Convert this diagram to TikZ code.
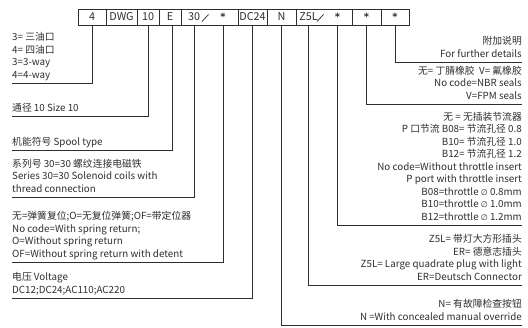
\documentclass[tikz,border=0pt]{standalone}
\usepackage{fontspec}
\setmainfont{Noto Sans CJK SC}
\newfontfamily\symfont{DejaVu Sans}
\usetikzlibrary{positioning}
\definecolor{ink}{HTML}{2E2E2E}
\tikzstyle{cell}=[draw=ink, line width=0.75pt, minimum height=16pt, inner sep=0pt, text=ink, font=\fontsize{10.8}{12}\selectfont]
\tikzstyle{lead}=[draw=ink, line width=0.75pt]
\tikzstyle{note}=[inner sep=0pt, text=ink, font=\fontsize{9.8}{12.5}\selectfont, execute at end node={\strut}]
\newcommand{\dia}{{\symfont\fontsize{8}{10}\selectfont ∅}}
\newcommand{\starmark}{\raisebox{-3.2pt}{\symfont\bfseries\fontsize{10}{10}\selectfont *}}

\begin{document}
\begin{tikzpicture}[x=1pt, y=-1pt]
    \useasboundingbox (0, 0) rectangle (528, 327);
% Code boxes
    \node[cell, minimum width=28pt] (c4) at (92, 17) {4};
    \node[cell, minimum width=31pt] (cDWG) at (121.5, 17) {DWG};
    \node[cell, minimum width=22pt] (c10) at (148, 17) {10};
    \node[cell, minimum width=22pt] (cE) at (170, 17) {E};
    \node[cell, minimum width=57pt] (c30) at (209.5, 17) {};
    \node[cell, minimum width=29pt] (cDC) at (252.5, 17) {DC24};
    \node[cell, minimum width=29pt] (cN) at (281.5, 17) {N};
    \node[cell, minimum width=56pt] (cZ) at (324, 17) {};
    \node[cell, minimum width=29pt] (cB) at (366.5, 17) {\starmark};
    \node[cell, minimum width=28pt] (cX) at (395, 17) {\starmark};
% Inner labels of the wide boxes
    \node[cell, draw=none] (t30) at (194, 17) {30};
    \node[cell, draw=none] (tS) at (223, 17) {\starmark};
    \node[cell, draw=none] (tZ) at (308.5, 17) {Z5L};
    \node[cell, draw=none] (tB) at (337.5, 17) {\starmark};
    \draw[lead] (202, 21.5) -- (208.5, 14.5);
    \draw[lead] (317, 21.5) -- (323.5, 14.5);
% Left notes
    \node[note, anchor=south west, align=left] (n4) at (12, 82) {3= 三油口\\4= 四油口\\3=3-way\\4=4-way};
    \node[note, anchor=south west, align=left] (n10) at (12, 115) {通径 10 Size 10};
    \node[note, anchor=south west, align=left] (nE) at (12, 149) {机能符号 Spool type};
    \node[note, anchor=south west, align=left] (n30) at (12, 196) {系列号 30=30 螺纹连接电磁铁\\Series 30=30 Solenoid coils with\\thread connection};
    \node[note, anchor=south west, align=left] (nS) at (12, 261) {无=弹簧复位;O=无复位弹簧;OF=带定位器\\No code=With spring return;\\O=Without spring return\\OF=Without spring return with detent};
    \node[note, anchor=south west, align=left] (nV) at (12, 297) {电压 Voltage\\DC12;DC24;AC110;AC220};
% Right notes
    \node[note, anchor=south east, align=right] (nX) at (522, 61) {附加说明\\For further details};
    \node[note, anchor=south east, align=right] (nB) at (522, 103) {无= 丁腈橡胶~ V= 氟橡胶\\No code=NBR seals\\V=FPM seals};
    \node[note, anchor=south east, align=right] (nT) at (522, 224) {无 = 无插装节流器\\P 口节流 B08= 节流孔径 0.8\\B10= 节流孔径 1.0\\B12= 节流孔径 1.2\\No code=Without throttle insert\\P port with throttle insert\\B08=throttle \dia\ 0.8mm\\B10=throttle \dia\ 1.0mm\\B12=throttle \dia\ 1.2mm};
    \node[note, anchor=south east, align=right] (nZ) at (522, 284) {Z5L= 带灯大方形插头\\ER= 德意志插头\\Z5L= Large quadrate plug with light\\ER=Deutsch Connector};
    \node[note, anchor=south east, align=right] (nN) at (522, 324) {N= 有故障检查按钮\\N =With concealed manual override};
% Leader ends
    \coordinate (e4) at (12, 83);
    \coordinate (e10) at (12, 116);
    \coordinate (eE) at (12, 150);
    \coordinate (e30) at (12, 197);
    \coordinate (eS) at (12, 262);
    \coordinate (eV) at (12, 298);
    \coordinate (eX) at (522, 62);
    \coordinate (eB) at (522, 104);
    \coordinate (eT) at (522, 225);
    \coordinate (eZ) at (522, 285);
    \coordinate (eN) at (522, 325);
% Leaders
    \draw[lead] (c4.south) |- (e4);
    \draw[lead] (c10.south) |- (e10);
    \draw[lead] ([xshift=2pt]cE.south) |- (eE);
    \draw[lead] (t30 |- c30.south) |- (e30);
    \draw[lead] (tS |- c30.south) |- (eS);
    \draw[lead] (cDC.south) |- (eV);
    \draw[lead] (cN.south) |- (eN);
    \draw[lead] (tZ |- cZ.south) |- (eZ);
    \draw[lead] (tB |- cZ.south) |- (eT);
    \draw[lead] (cB.south) |- (eB);
    \draw[lead] (cX.south) |- (eX);
\end{tikzpicture}
\end{document}
